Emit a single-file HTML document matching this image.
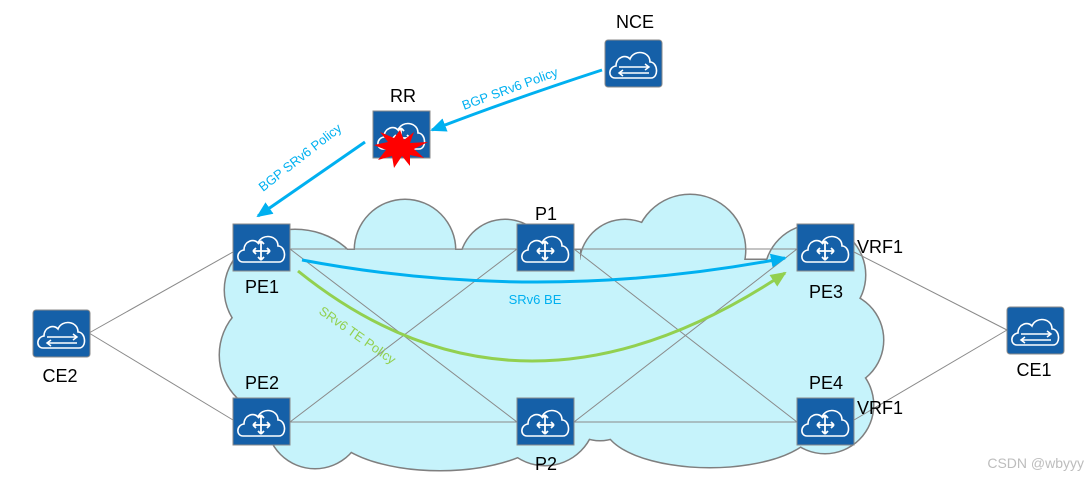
<!DOCTYPE html>
<html><head><meta charset="utf-8"><style>
body{margin:0;background:#fff}
svg{display:block}
text{font-family:"Liberation Sans","DejaVu Sans",sans-serif}
</style></head><body>
<svg width="1089" height="479" viewBox="0 0 1089 479" xmlns="http://www.w3.org/2000/svg">
<defs>
<g id="rt">
<rect x="0" y="0" width="57" height="47" fill="#1560a8" stroke="#8a8a8a" stroke-width="1"/>
<path d="M10 38 C3 38 3 27 11 26 C11 17 21 14 25 19 C29 9 45 11 45 22 C53 22 54 38 46 38 Z" fill="none" stroke="#fff" stroke-width="1.6"/>
<path d="M28 17 V36 M20 27 H37 M28 17 l-3 3 M28 17 l3 3 M28 36 l-3 -3 M28 36 l3 -3 M20 27 l3 -3 M20 27 l3 3 M37 27 l-3 -3 M37 27 l-3 3" stroke="#fff" stroke-width="1.8" fill="none"/>
</g>
<g id="sw">
<rect x="0" y="0" width="57" height="47" rx="3" fill="#1560a8" stroke="#8a8a8a" stroke-width="1"/>
<path d="M10 38 C3 38 3 27 11 26 C11 17 21 14 25 19 C29 9 45 11 45 22 C53 22 54 38 46 38 Z" fill="none" stroke="#fff" stroke-width="1.6"/>
<path d="M14 27 H44 M40 24 l4 3 -4 3 M14 33 H44 M18 30 l-4 3 4 3" stroke="#fff" stroke-width="1.5" fill="none"/>
</g>
<g id="cl" >
<circle cx="405" cy="250" r="50"/><ellipse cx="295" cy="290" rx="70" ry="60"/><circle cx="280" cy="355" r="60"/>
<circle cx="315" cy="420" r="48"/><ellipse cx="440" cy="425" rx="110" ry="45"/><circle cx="545" cy="415" r="50"/>
<circle cx="540" cy="300" r="55"/><rect x="300" y="250" width="280" height="180"/><circle cx="505" cy="265" r="45"/>
<circle cx="690" cy="250" r="55"/><circle cx="815" cy="275" r="50"/><circle cx="835" cy="340" r="48"/>
<circle cx="825" cy="405" r="48"/><ellipse cx="710" cy="425" rx="105" ry="42"/><circle cx="625" cy="330" r="50"/>
<circle cx="625" cy="265" r="45"/><rect x="620" y="260" width="210" height="170"/>
<rect x="550" y="260" width="100" height="170"/><circle cx="600" cy="400" r="40"/>
</g>
<marker id="ab2" markerWidth="16" markerHeight="14" refX="14" refY="7" orient="auto" markerUnits="userSpaceOnUse"><path d="M0 0 L16 7 L0 14 Z" fill="#00b0f0"/></marker>
<marker id="ag" markerWidth="16" markerHeight="14" refX="14" refY="7" orient="auto" markerUnits="userSpaceOnUse"><path d="M0 0 L16 7 L0 14 Z" fill="#92d050"/></marker>
</defs>
<use href="#cl" fill="#c6f3fb" stroke="#7f7f7f" stroke-width="3"/>
<use href="#cl" fill="#c6f3fb"/>
<g stroke="#8a8a8a" stroke-width="1" fill="none">
<line x1="290" y1="249" x2="797" y2="249"/>
<line x1="290" y1="422" x2="797" y2="422"/>
<line x1="290" y1="249" x2="517" y2="422"/>
<line x1="290" y1="422" x2="517" y2="249"/>
<line x1="574" y1="249" x2="797" y2="422"/>
<line x1="574" y1="422" x2="797" y2="249"/>
<line x1="89" y1="333" x2="233" y2="252"/>
<line x1="89" y1="333" x2="233" y2="420"/>
<line x1="1007" y1="330" x2="854" y2="252"/>
<line x1="1007" y1="330" x2="854" y2="420"/>
</g>
<path d="M302 260 Q540 305 785 258" stroke="#00b0f0" stroke-width="3" fill="none" marker-end="url(#ab2)"/>
<path d="M298 271 Q520 450 785 273" stroke="#92d050" stroke-width="3" fill="none" marker-end="url(#ag)"/>
<path d="M602 70 Q510 100 432 130" stroke="#00b0f0" stroke-width="3" fill="none" marker-end="url(#ab2)"/>
<path d="M365 142 Q310 180 258 216" stroke="#00b0f0" stroke-width="3" fill="none" marker-end="url(#ab2)"/>
<use href="#rt" x="233" y="224"/><use href="#rt" x="517" y="224"/><use href="#rt" x="797" y="224"/>
<use href="#rt" x="233" y="398"/><use href="#rt" x="517" y="398"/><use href="#rt" x="797" y="398"/>
<use href="#rt" x="373" y="111"/>
<use href="#sw" x="605" y="40"/><use href="#sw" x="33" y="310"/><use href="#sw" x="1007" y="307"/>
<polygon points="400,130 404,140 414,132 410,143 428,142 414,149 424,158 410,155 410,166 402,156 394,168 392,156 378,160 386,150 374,145 388,142 380,132 394,138" fill="#ff0000"/>
<g font-size="18" fill="#000" text-anchor="middle">
<text x="635" y="28">NCE</text><text x="403" y="102">RR</text>
<text x="262" y="293">PE1</text><text x="546" y="220">P1</text><text x="826" y="298">PE3</text>
<text x="262" y="389">PE2</text><text x="546" y="470">P2</text><text x="826" y="389">PE4</text>
<text x="60" y="382">CE2</text><text x="1034" y="376">CE1</text>
<text x="880" y="253">VRF1</text><text x="880" y="414">VRF1</text>
</g>
<text x="535" y="304" font-size="13" fill="#00b0f0" text-anchor="middle">SRv6 BE</text>
<text x="0" y="0" font-size="13" fill="#92d050" transform="translate(318,313) rotate(35)">SRv6 TE Policy</text>
<text x="0" y="0" font-size="13" fill="#00b0f0" transform="translate(464,110) rotate(-20)">BGP SRv6 Policy</text>
<text x="0" y="0" font-size="13" fill="#00b0f0" transform="translate(263,192) rotate(-38)">BGP SRv6 Policy</text>
<text x="1084" y="468" font-size="14" fill="#bdbdbd" text-anchor="end">CSDN @wbyyy</text>
</svg>
</body></html>
